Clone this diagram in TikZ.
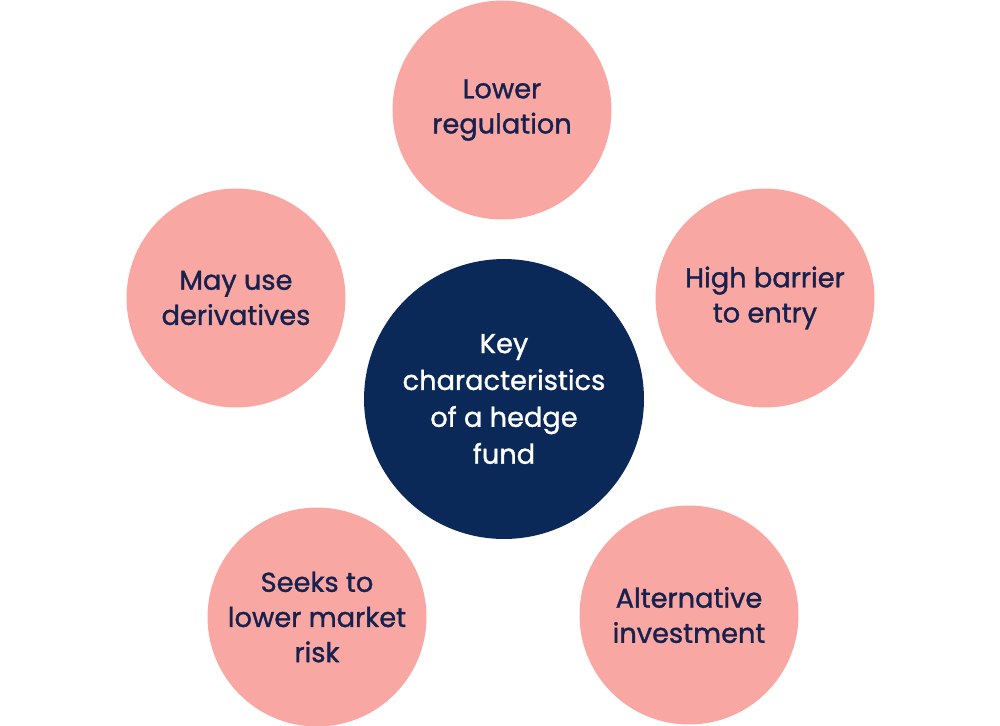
\documentclass[tikz,border=0pt]{standalone}
\usepackage{fontspec}
\setmainfont{Poppins}[FakeBold=1.2]
\usepackage{tikz}
\usepackage{xcolor}
\definecolor{hfpink}{RGB}{249,167,162}
\definecolor{hfnavy}{RGB}{10,41,88}
\definecolor{hfink}{RGB}{22,33,78}

\begin{document}
\begin{tikzpicture}[x=0.02cm,y=-0.02cm,
    trait/.style={circle,fill=hfpink,minimum size=4.38cm,inner sep=0pt,
      text=hfink,align=center,font=\fontsize{15.5}{20}\selectfont},
    hub/.style={circle,fill=hfnavy,minimum size=5.6cm,inner sep=0pt,
      text=white,align=center,font=\fontsize{15.5}{21}\selectfont}]
    % Canvas
    \useasboundingbox (0,0) rectangle (1000,725);
    
    % Centre
    \node[hub] (fund) at (504,399) {Key\\characteristics\\of a hedge\\fund};
    
    % Surrounding traits
    \node[trait] (regulation) at (502,110) {Lower\\regulation};
    \node[trait] (derivatives) at (236,298) {May use\\derivatives};
    \node[trait] (barrier) at (765,298) {High barrier\\to entry};
    \node[trait] (risk) at (317,617) {Seeks to\\lower market\\risk};
    \node[trait] (alternative) at (689,615) {Alternative\\investment};
\end{tikzpicture}
\end{document}
